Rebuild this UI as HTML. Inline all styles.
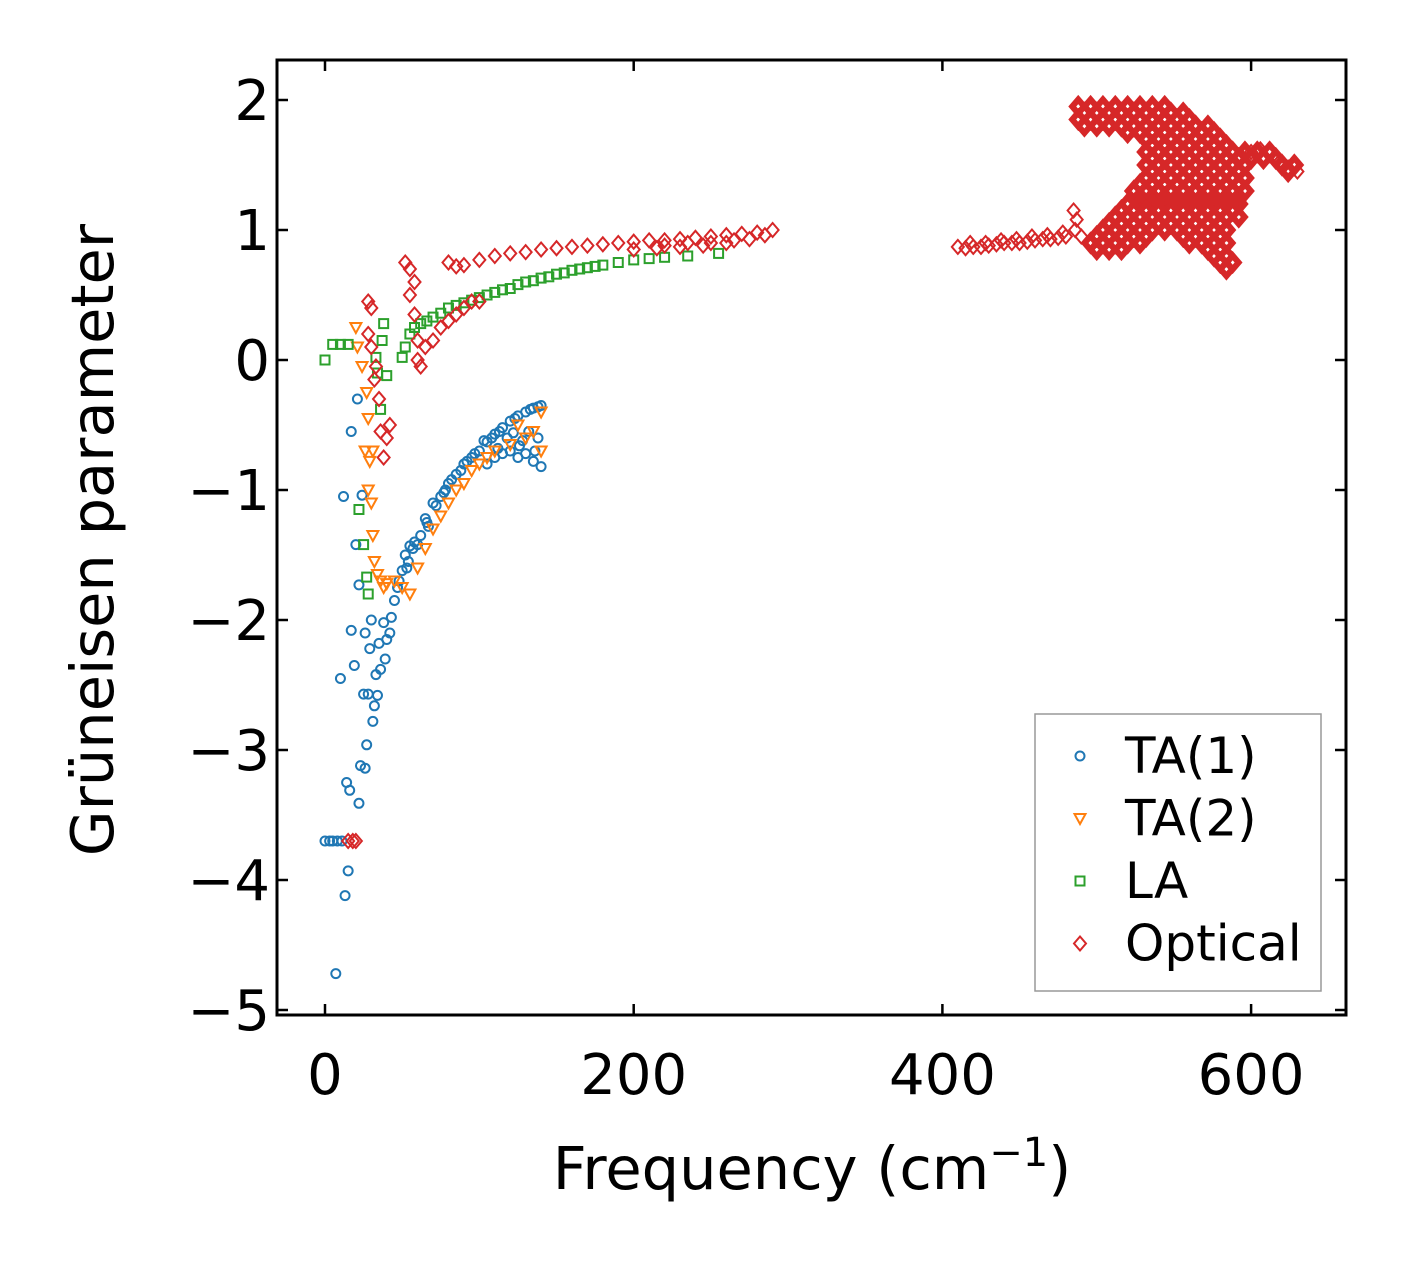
<!DOCTYPE html>
<html><head><meta charset="utf-8"><style>
body{margin:0;background:#fff}
svg text{font-family:"DejaVu Sans","Liberation Sans",sans-serif;fill:#000}
</style></head><body>
<svg id="chart" width="1406" height="1264" viewBox="0 0 1406 1264" xmlns="http://www.w3.org/2000/svg">
<rect width="1406" height="1264" fill="#fff"/>
<g id="marks"></g>
<rect x="277" y="60" width="1069" height="955" fill="none" stroke="#000" stroke-width="3"/>
<g id="ticks"></g>
<text x="812" y="1189" font-size="59" text-anchor="middle">Frequency (cm<tspan font-size="40" dy="-23">−1</tspan><tspan dy="23">)</tspan></text>
<text transform="translate(113,540) rotate(-90)" font-size="59" text-anchor="middle">Grüneisen parameter</text>
<g>
<rect x="1035" y="714" width="286" height="277" fill="#fff" stroke="#999" stroke-width="1.5"/>
<g id="legend-items"></g>
</g>
</svg>
<script>
const xTicks=[0,200,400,600];
const yTicks=[2,1,0,-1,-2,-3,-4,-5];
const seriesNames=["TA(1)","TA(2)","LA","Optical"];
const ta1=[[0,-3.7],[3,-3.7],[5,-3.7],[8,-3.7],[11,-3.7],[7,-4.72],[10,-2.45],[13,-4.12],[14,-3.25],[15,-3.93],[16,-3.31],[12,-1.05],[17,-0.55],[17,-2.08],[19,-2.35],[20,-1.42],[21,-0.3],[22,-1.73],[22,-3.41],[23,-3.12],[24,-1.04],[25,-2.57],[26,-3.14],[26,-2.1],[27,-2.96],[28,-2.57],[29,-2.22],[30,-2.0],[31,-2.78],[32,-2.66],[33,-2.42],[34,-2.58],[35,-2.18],[36,-2.38],[38,-2.02],[39,-2.3],[40,-2.15],[42,-2.1],[43,-1.98],[45,-1.85],[47,-1.75],[50,-1.62],[52,-1.5],[54,-1.55],[55,-1.43],[58,-1.4],[62,-1.35],[65,-1.22],[67,-1.28],[70,-1.1],[75,-1.05],[78,-1.0],[80,-0.95],[85,-0.88],[88,-0.85],[90,-0.8],[95,-0.75],[100,-0.7],[103,-0.62],[105,-0.63],[110,-0.57],[115,-0.52],[120,-0.47],[125,-0.43],[130,-0.4],[135,-0.37],[140,-0.35],[105,-0.8],[110,-0.75],[115,-0.72],[120,-0.7],[125,-0.75],[130,-0.72],[135,-0.78],[140,-0.82],[138,-0.6],[132,-0.55],[128,-0.62],[118,-0.6],[48,-1.7],[53,-1.6],[57,-1.45],[60,-1.42],[66,-1.25],[72,-1.12],[77,-1.02],[82,-0.92],[92,-0.78],[97,-0.72],[108,-0.6],[113,-0.55],[123,-0.45],[133,-0.38],[138,-0.36],[136,-0.7],[126,-0.66],[112,-0.68],[122,-0.56]];
const ta2=[[20,0.25],[21,0.1],[24,-0.05],[27,-0.25],[28,-0.45],[26,-0.7],[29,-0.78],[31,-0.7],[28,-1.0],[30,-1.1],[31,-1.35],[32,-1.55],[34,-1.65],[36,-1.7],[38,-1.75],[40,-1.72],[45,-1.7],[50,-1.75],[55,-1.8],[60,-1.6],[65,-1.45],[70,-1.3],[75,-1.2],[80,-1.1],[85,-1.0],[90,-0.95],[95,-0.85],[100,-0.8],[105,-0.75],[110,-0.7],[120,-0.65],[130,-0.6],[140,-0.4],[140,-0.7],[135,-0.55],[125,-0.5]];
const la=[[0,0],[5,0.12],[10,0.12],[15,0.12],[22,-1.15],[25,-1.42],[27,-1.67],[28,-1.8],[33,0.02],[34,-0.1],[36,-0.38],[37,0.15],[38,0.28],[40,-0.12],[50,0.02],[52,0.1],[55,0.2],[58,0.25],[62,0.28],[66,0.3],[70,0.33],[75,0.36],[80,0.4],[85,0.42],[90,0.44],[95,0.46],[100,0.48],[105,0.5],[110,0.52],[115,0.54],[120,0.55],[125,0.58],[130,0.6],[135,0.61],[140,0.63],[145,0.64],[150,0.66],[155,0.67],[160,0.69],[165,0.7],[170,0.71],[175,0.72],[180,0.73],[190,0.75],[200,0.77],[210,0.78],[220,0.79],[235,0.8],[255,0.82]];
const optical=[[15,-3.7],[18,-3.7],[20,-3.7],[28,0.45],[30,0.4],[28,0.2],[30,0.1],[32,-0.15],[33,-0.05],[35,-0.3],[36,-0.55],[38,-0.75],[40,-0.6],[42,-0.5],[52,0.75],[55,0.7],[55,0.5],[58,0.6],[58,0.35],[60,0.15],[60,0.0],[62,-0.05],[65,0.1],[70,0.15],[75,0.25],[80,0.3],[85,0.35],[90,0.4],[95,0.45],[100,0.45],[80,0.75],[85,0.72],[90,0.73],[100,0.77],[110,0.8],[120,0.82],[130,0.83],[140,0.85],[150,0.86],[160,0.87],[170,0.88],[180,0.89],[190,0.9],[200,0.91],[210,0.92],[220,0.92],[230,0.93],[240,0.94],[250,0.95],[260,0.96],[270,0.97],[280,0.98],[290,1.0],[200,0.85],[215,0.86],[230,0.87],[245,0.88],[260,0.9],[275,0.93],[285,0.96],[265,0.92],[250,0.9],[235,0.9],[220,0.88],
[410,0.87],[415,0.86],[420,0.87],[425,0.87],[430,0.88],[435,0.89],[440,0.9],[445,0.9],[450,0.9],[455,0.91],[460,0.92],[465,0.93],[470,0.93],[475,0.94],[480,0.95],[485,1.15],[490,0.95],
[418,0.9],[428,0.9],[438,0.92],[448,0.93],[458,0.95],[468,0.96],[478,0.98],[486,1.0],[487,1.08],
[630,1.45],[624,1.48],[618,1.52],[612,1.58],[606,1.62],[600,1.6],[594,1.56]];
const opticalBlobGamma=[1.95,1.9,1.85,1.8,1.75,1.7,1.65,1.6,1.55,1.5,1.45,1.4,1.35,1.3,1.25,1.2,1.15,1.1,1.05,1.0,0.95,0.9,0.85,0.8,0.75,0.7];
const opticalBlobFreqs=[
[488,496,504,512,520,528,536,544],
[492,500,508,516,524,532,540,548,556],
[488,496,504,512,520,528,536,544,552,560],
[492,500,508,516,524,532,540,548,556,564,572],
[520,528,536,544,552,560,568,576],
[532,540,548,556,564,572,580],
[536,544,552,560,568,576,584],
[532,540,548,556,564,572,580,588,596,604,612],
[536,544,552,560,568,576,584,592,600,608,616],
[532,540,548,556,564,572,580,588,596,620,628],
[536,544,552,560,568,576,584,592,624],
[532,540,548,556,564,572,580,588,596],
[528,536,544,552,560,568,576,584,592],
[524,532,540,548,556,564,572,580,588,596],
[528,536,544,552,560,568,576,584,592],
[520,528,536,544,552,560,568,576,584,592],
[516,524,532,540,548,556,564,572,580,588],
[512,520,528,536,544,552,560,568,576,584,592],
[508,516,524,532,540,548,556,564,572,580],
[504,512,520,528,536,544,552,560,568,576,584],
[500,508,516,524,532,556,564,572,580],
[496,504,512,520,528,560,568,576,584],
[500,508,516,572,580],
[576,584],
[580,588],
[584]];
const xs=v=>325+v*1.5435;
const ys=v=>360-v*130;
const NS="http://www.w3.org/2000/svg";
const marks=document.getElementById('marks');
const colors=["#1f77b4","#ff7f0e","#2ca02c","#d62728"];
function marker(kind,cx,cy,col,parent,sw){
  let el;
  if(kind===0){el=document.createElementNS(NS,'circle');el.setAttribute('cx',cx);el.setAttribute('cy',cy);el.setAttribute('r',4.5);}
  else if(kind===1){el=document.createElementNS(NS,'polygon');el.setAttribute('points',`${cx-5.5},${cy-4.5} ${cx+5.5},${cy-4.5} ${cx},${cy+5.5}`);}
  else if(kind===2){el=document.createElementNS(NS,'rect');el.setAttribute('x',cx-4.5);el.setAttribute('y',cy-4.5);el.setAttribute('width',9);el.setAttribute('height',9);}
  else {el=document.createElementNS(NS,'polygon');el.setAttribute('points',`${cx},${cy-7} ${cx+6},${cy} ${cx},${cy+7} ${cx-6},${cy}`);}
  el.setAttribute('fill','none');el.setAttribute('stroke',col);el.setAttribute('stroke-width',sw||2);
  parent.appendChild(el);return el;
}
const blob=[];
opticalBlobGamma.forEach((g,i)=>opticalBlobFreqs[i].forEach(f=>blob.push([f,g])));
[ta1,ta2,la,optical].forEach((s,k)=>{s.forEach(p=>{
  const el=marker(k,xs(p[0]),ys(p[1]),colors[k],marks);
  
  
});});
blob.forEach(p=>{
  const el=marker(3,xs(p[0]),ys(p[1]),colors[3],marks,6);
  
  
});
const tk=document.getElementById('ticks');
function line(x1,y1,x2,y2){const l=document.createElementNS(NS,'line');l.setAttribute('x1',x1);l.setAttribute('y1',y1);l.setAttribute('x2',x2);l.setAttribute('y2',y2);l.setAttribute('stroke','#000');l.setAttribute('stroke-width',2.5);tk.appendChild(l);}
xTicks.forEach(v=>{const x=xs(v);line(x,1015,x,1004);line(x,60,x,71);
  const t=document.createElementNS(NS,'text');t.setAttribute('x',x);t.setAttribute('y',1094);t.setAttribute('font-size',56);t.setAttribute('text-anchor','middle');t.textContent=v;
  
  
  tk.appendChild(t);});
yTicks.forEach(v=>{const y=ys(v);line(277,y,288,y);line(1346,y,1335,y);
  const t=document.createElementNS(NS,'text');t.setAttribute('x',270);t.setAttribute('y',y+20);t.setAttribute('font-size',56);t.setAttribute('text-anchor','end');t.textContent=v<0?'−'+(-v):v;
  
  
  tk.appendChild(t);});
const lg=document.getElementById('legend-items');
seriesNames.forEach((n,k)=>{const y=756+k*62.5;
  const g=document.createElementNS(NS,'g');
  
  
  lg.appendChild(g);
  marker(k,1080,y,colors[k],g);
  const t=document.createElementNS(NS,'text');t.setAttribute('x',1125);t.setAttribute('y',y+17);t.setAttribute('font-size',50);t.textContent=n;g.appendChild(t);});
</script>
</body></html>
